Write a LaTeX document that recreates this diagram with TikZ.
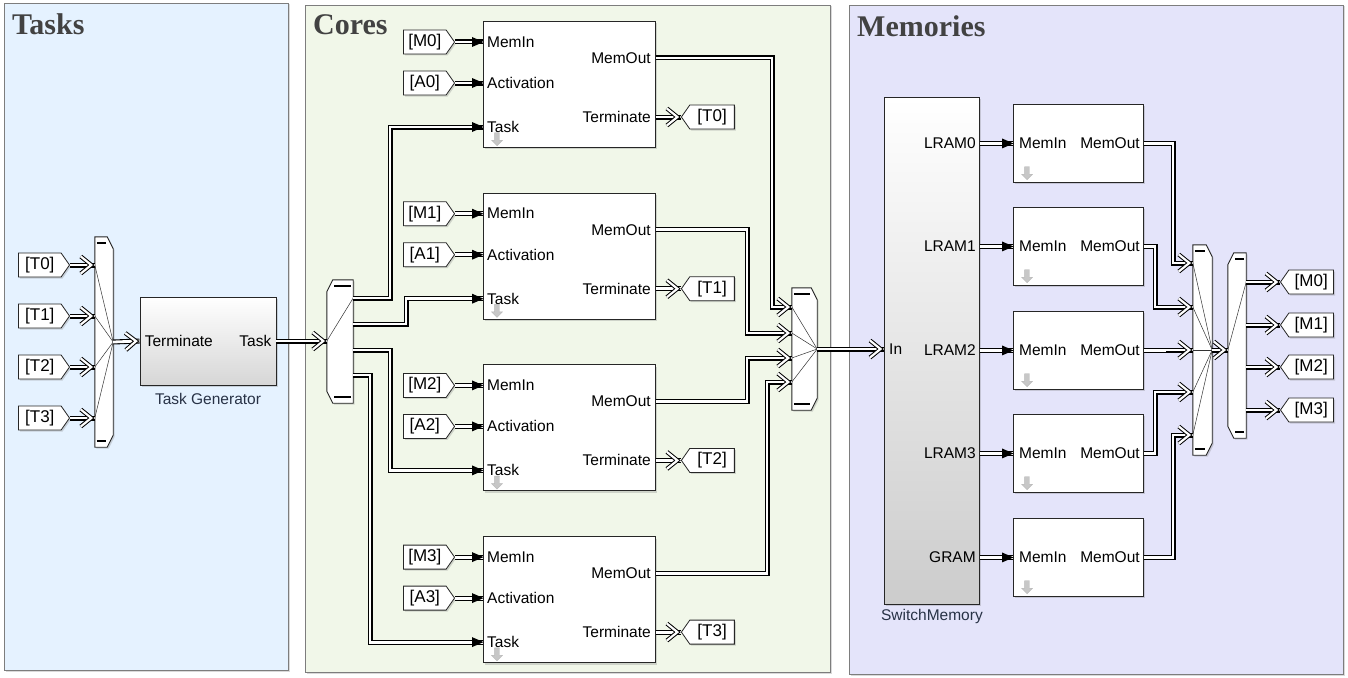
\documentclass[tikz,border=0pt]{standalone}
\usepackage{fontspec}
\setmainfont{Liberation Sans}
\newfontfamily\ttlfont{Liberation Serif}
\usetikzlibrary{arrows.meta,shapes.symbols,shapes.arrows,shadows,calc,decorations.markings}
\definecolor{tasksbg}{RGB}{229,242,255}
\definecolor{coresbg}{RGB}{241,247,233}
\definecolor{memsbg}{RGB}{228,228,250}
\definecolor{panelline}{RGB}{125,125,125}
\definecolor{titlecol}{RGB}{66,66,66}
\definecolor{namecol}{RGB}{40,50,70}
\newcommand\muxRshape[1]{%
  \draw[muxsh] (#1.north west) -- ([xshift=-6pt]#1.north east) -- ([yshift=-12pt]#1.north east)
    -- ([yshift=12pt]#1.south east) -- ([xshift=-6pt]#1.south east) -- (#1.south west) -- cycle;
  \draw[line width=2.2pt] ([shift={(2pt,-6pt)}]#1.north west) -- ([shift={(-7pt,-6pt)}]#1.north east);
  \draw[line width=2.2pt] ([shift={(2pt,6pt)}]#1.south west) -- ([shift={(-7pt,6pt)}]#1.south east);
}
\newcommand\muxLshape[1]{%
  \draw[muxsh] (#1.north east) -- ([xshift=6pt]#1.north west) -- ([yshift=-12pt]#1.north west)
    -- ([yshift=12pt]#1.south west) -- ([xshift=6pt]#1.south west) -- (#1.south east) -- cycle;
  \draw[line width=2.2pt] ([shift={(-2pt,-6pt)}]#1.north east) -- ([shift={(7pt,-6pt)}]#1.north west);
  \draw[line width=2.2pt] ([shift={(-2pt,6pt)}]#1.south east) -- ([shift={(7pt,6pt)}]#1.south west);
}
\begin{document}
\begin{tikzpicture}[x=1pt,y=-1pt,
  font=\fontsize{15.5}{17}\selectfont,
  panel/.style={draw=panelline, line width=0.9pt, drop shadow={shadow xshift=1.5pt, shadow yshift=-1.5pt, opacity=0.3}},
  title/.style={font=\ttlfont\bfseries\fontsize{30}{32}\selectfont, text=titlecol, anchor=base west, inner sep=0},
  block/.style={draw=black!85, line width=0.9pt, fill=white, drop shadow={shadow xshift=2pt, shadow yshift=-2pt, opacity=0.3}},
  lab/.style={inner sep=0},
  bus/.style={draw=black, line width=1.1pt, double=white, double distance=2.8pt, miter limit=20},
  ftip/.style={postaction={decorate, decoration={markings, mark=at position 1 with {
      \fill[black] (0.5pt,0) -- (-11pt,5pt) -- (-11pt,-5pt) -- cycle;}}}},
  ctip/.style={postaction={decorate, decoration={markings, mark=at position 1 with {
      \draw[draw=black, line width=1pt, double=white, double distance=2.2pt, line join=miter, miter limit=20]
        (-14pt,8.5pt) -- (-3.5pt,0) -- (-14pt,-8.5pt);}}}},
  tagbase/.style={signal, signal pointer angle=110, draw=black!85, line width=0.8pt, fill=white,
     font=\fontsize{17}{18}\selectfont, minimum height=24, inner sep=2pt,
     drop shadow={shadow xshift=1.5pt, shadow yshift=-1.5pt, opacity=0.3}},
  fromtag/.style={tagbase, signal to=east, minimum width=51},
  gototag/.style={tagbase, signal to=west, minimum width=53},
  muxbox/.style={draw=none, inner sep=0},
  muxsh/.style={draw=black!85, line width=0.9pt, fill=white, drop shadow={shadow xshift=1.5pt, shadow yshift=-1.5pt, opacity=0.3}},
  inner/.style={line width=0.5pt, draw=black!80},
  icon/.style={single arrow, shape border rotate=270, fill=black!22, draw=black!28, minimum width=11, minimum height=13,
     single arrow head extend=1.5pt, inner sep=1pt},
]
\useasboundingbox (0,0) rectangle (1348,677);
% ---------- panels
\draw[panel, fill=tasksbg] (4,3) rectangle (288,670);
\draw[panel, fill=coresbg] (305,5) rectangle (830,672);
\draw[panel, fill=memsbg] (849,5) rectangle (1343,674);
\node[title] (tTasks) at (12,35) {Tasks};
\node[title] (tCores) at (313,35) {Cores};
\node[title] (tMems) at (857,37) {Memories};

% ---------- Tasks
\node[muxbox, minimum width=18, minimum height=210] (mxT) at (104,342) {};
\muxRshape{mxT}
\foreach \i/\y in {0/265,1/316,2/367,3/418}{
  \node[fromtag, anchor=east] (fT\i) at (70,\y) {[T\i]};
  \draw[inner] (mxT.west |- fT\i.east) -- (mxT.east);
  \draw[bus, ctip] (fT\i.east) -- (mxT.west |- fT\i.east);
}
\node[block, top color=white, bottom color=black!16, minimum width=136, minimum height=88] (tg) at (208,341) {};
\node[lab, anchor=west] (tgIn) at ([xshift=5pt]tg.west) {Terminate};
\node[lab, anchor=east] (tgOut) at ([xshift=-5pt]tg.east) {Task};
\node[lab, anchor=north, text=namecol] (tgName) at ([yshift=-8pt]tg.south) {Task Generator};
\draw[bus, ctip] (mxT.east) -- (tg.west);

% ---------- Cores
\node[muxbox, minimum width=26, minimum height=123] (dmx) at (340,341.5) {};
\muxLshape{dmx}
\draw[inner] (tg.east -| dmx.west) -- (dmx.east |- 0,298);
\draw[bus, ctip] (tg.east) -- (tg.east -| dmx.west);

\foreach \i in {0,1,2,3}{
  \pgfmathsetmacro{\ct}{21+171.7*\i}
  \node[block, anchor=north west, minimum width=172, minimum height=126] (core\i) at (483,\ct) {};
  \coordinate (core\i-memin) at ([yshift=-21pt]core\i.north west);
  \coordinate (core\i-act) at ([yshift=-62pt]core\i.north west);
  \coordinate (core\i-task) at ([yshift=-106pt]core\i.north west);
  \coordinate (core\i-memout) at ([yshift=-37pt]core\i.north east);
  \coordinate (core\i-term) at ([yshift=-96pt]core\i.north east);
  \node[lab, anchor=west] (core\i-l1) at ([xshift=4pt]core\i-memin) {MemIn};
  \node[lab, anchor=west] (core\i-l2) at ([xshift=4pt]core\i-act) {Activation};
  \node[lab, anchor=west] (core\i-l3) at ([xshift=4pt]core\i-task) {Task};
  \node[lab, anchor=east] (core\i-l4) at ([xshift=-5pt]core\i-memout) {MemOut};
  \node[lab, anchor=east] (core\i-l5) at ([xshift=-5pt]core\i-term) {Terminate};
  \node[icon] (icC\i) at ([shift={(14pt,-117pt)}]core\i.north west) {};
  \node[fromtag, anchor=east] (tM\i) at ([xshift=-28pt]core\i-memin) {[M\i]};
  \node[fromtag, anchor=east] (tA\i) at ([xshift=-28pt]core\i-act) {[A\i]};
  \draw[bus, ftip] (tM\i.east) -- (core\i-memin);
  \draw[bus, ftip] (tA\i.east) -- (core\i-act);
  \node[gototag, anchor=west] (gT\i) at ([xshift=25pt]core\i-term) {[T\i]};
  \draw[bus, ctip] (core\i-term) -- (gT\i.west);
}
\draw[bus, ftip] (dmx.east |- 0,298) -| (390,0 |- core0-task) -- (core0-task);
\draw[bus, ftip] (dmx.east |- 0,324) -| (406,0 |- core1-task) -- (core1-task);
\draw[bus, ftip] (dmx.east |- 0,350) -| (390,0 |- core2-task) -- (core2-task);
\draw[bus, ftip] (dmx.east |- 0,375) -| (370,0 |- core3-task) -- (core3-task);

\node[muxbox, minimum width=25, minimum height=122] (mxC) at (804.5,349) {};
\muxRshape{mxC}
\foreach \y in {307,333,358,382}{\draw[inner] (mxC.west |- 0,\y) -- (mxC.east);}
\draw[bus, ctip] (core0-memout) -| (772,307) -- (mxC.west |- 0,307);
\draw[bus, ctip] (core1-memout) -| (747,333) -- (mxC.west |- 0,333);
\draw[bus, ctip] (core2-memout) -| (747,358) -- (mxC.west |- 0,358);
\draw[bus, ctip] (core3-memout) -| (767,382) -- (mxC.west |- 0,382);

% ---------- Memories
\node[block, top color=white, bottom color=black!20, anchor=north west, minimum width=95, minimum height=507] (sw) at (884,97) {};
\node[lab, anchor=north, text=namecol] (swName) at ([yshift=-4pt]sw.south) {SwitchMemory};
\draw[bus, ctip] (mxC.east) -- (mxC.east -| sw.west);
\node[lab, anchor=west] (swIn) at ([xshift=5pt]mxC.east -| sw.west) {In};

\foreach \i/\t/\n in {0/104/LRAM0,1/207/LRAM1,2/311/LRAM2,3/414/LRAM3,4/518/GRAM}{
  \node[block, anchor=north west, minimum width=130, minimum height=78] (mb\i) at (1013,\t) {};
  \coordinate (sw-o\i) at (sw.east |- mb\i.west);
  \node[lab, anchor=east] (swl\i) at ([xshift=-4pt]sw-o\i) {\n};
  \draw[bus, ftip] (sw-o\i) -- (mb\i.west);
  \node[lab, anchor=west] (mbi\i) at ([xshift=6pt]mb\i.west) {MemIn};
  \node[lab, anchor=east] (mbo\i) at ([xshift=-4pt]mb\i.east) {MemOut};
  \node[icon] (icM\i) at ([shift={(14pt,-68pt)}]mb\i.north west) {};
}
\node[muxbox, minimum width=19, minimum height=210] (mxM) at (1202.5,350) {};
\muxRshape{mxM}
\foreach \i/\x/\y in {0/1173/263,1/1155/307,2/1165/350,3/1155/392,4/1173/435}{
  \draw[inner] (mxM.west |- 0,\y) -- (mxM.east);
  \draw[bus, ctip] (mb\i.east) -| (\x,\y) -- (mxM.west |- 0,\y);
}
\node[muxbox, minimum width=18, minimum height=185] (dmM) at (1237,345.5) {};
\muxLshape{dmM}
\draw[inner] (mxM.east -| dmM.west) -- (dmM.east |- 0,282);
\draw[bus, ctip] (mxM.east) -- (mxM.east -| dmM.west);
\foreach \i/\y in {0/282,1/325,2/367,3/410}{
  \node[gototag, anchor=west] (gM\i) at (1280,\y) {[M\i]};
  \draw[bus, ctip] (dmM.east |- 0,\y) -- (gM\i.west);
}
\end{tikzpicture}
\end{document}
